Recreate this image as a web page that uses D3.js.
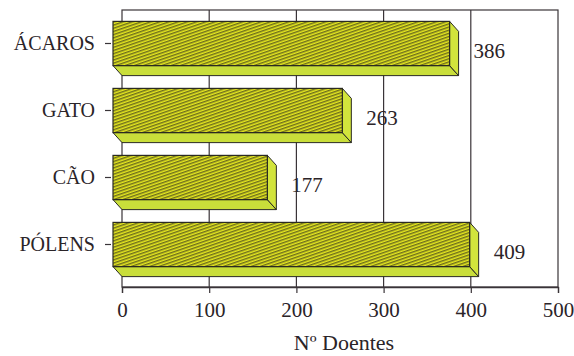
<!DOCTYPE html>
<html><head><meta charset="utf-8">
<script src="https://cdn.jsdelivr.net/npm/d3@7"></script>
<style>html,body{margin:0;padding:0;background:#fff;}svg{display:block;}</style>
</head><body>
<svg id="c" width="574" height="356"></svg>
<script>
const categories = ["ÁCAROS", "GATO", "CÃO", "PÓLENS"];
const values = [386, 263, 177, 409];
const ticks = [0, 100, 200, 300, 400, 500];
const axisTitle = "Nº Doentes";

const svg = d3.select("#c");
const font = "'Liberation Serif', 'Times New Roman', serif";
const ink = "#2b2428";
const depthX = 9, depthY = 10;

const x = d3.scaleLinear().domain([0, 500]).range([122, 558]);
const wallTop = 10, wallBottom = 287;
const y = d3.scaleBand().domain(categories).range([10, 278]).paddingInner(0.34).paddingOuter(0.17);

// pattern
const defs = svg.append("defs");
const pat = defs.append("pattern").attr("id", "hatch").attr("patternUnits", "userSpaceOnUse")
  .attr("width", 10).attr("height", 3).attr("patternTransform", "rotate(-19)");
pat.append("rect").attr("width", 10).attr("height", 3).attr("fill", "#e6e820");
pat.append("line").attr("x1", 0).attr("x2", 10).attr("y1", 0.8).attr("y2", 0.8)
  .attr("stroke", "#45451c").attr("stroke-width", 1.1);

// back wall
svg.append("rect").attr("x", x(0)).attr("y", wallTop).attr("width", x(500) - x(0)).attr("height", wallBottom - wallTop)
  .attr("fill", "none").attr("stroke", "#3a3438").attr("stroke-width", 1.2);
svg.append("g").selectAll("line").data(ticks.slice(1, -1)).join("line")
  .attr("x1", d => x(d)).attr("x2", d => x(d)).attr("y1", wallTop).attr("y2", wallBottom)
  .attr("stroke", "#3a3438").attr("stroke-width", 1.2);

// bottom axis
const ax = svg.append("g").attr("transform", `translate(0,${wallBottom})`)
  .call(d3.axisBottom(x).tickValues(ticks).tickSize(6).tickPadding(9).tickFormat(d3.format("d")));
ax.select(".domain").attr("stroke", "#3a3438").attr("stroke-width", 1.3);
ax.selectAll(".tick line").attr("stroke", "#3a3438").attr("stroke-width", 1.2);
ax.selectAll("text").attr("font-family", font).attr("font-size", 21).attr("fill", ink);

// left axis (ticks and labels only)
const ay = svg.append("g").attr("transform", `translate(${x(0) - depthX - 2},0)`)
  .call(d3.axisLeft(y).tickSize(6).tickPadding(10));
ay.select(".domain").remove();
ay.selectAll(".tick line").attr("stroke", "#3a3438").attr("stroke-width", 1.2);
ay.selectAll("text").attr("font-family", font).attr("font-size", 20).attr("fill", ink);

// bars
const bars = svg.append("g").selectAll("g").data(categories.map((c, i) => ({c, v: values[i]}))).join("g");
bars.each(function(d) {
  const g = d3.select(this);
  const x0 = x(0) - depthX, x1 = x(d.v) - depthX;
  const yt = y(d.c), yb = y(d.c) + y.bandwidth();
  // bottom face
  g.append("path").attr("d", `M${x0},${yb}L${x1},${yb}L${x1 + depthX},${yb + depthY}L${x0 + depthX},${yb + depthY}Z`)
    .attr("fill", "#c9de3a").attr("stroke", "#2a2a22").attr("stroke-width", 1).attr("stroke-linejoin", "round");
  // side face
  g.append("path").attr("d", `M${x1},${yt}L${x1 + depthX},${yt + depthY}L${x1 + depthX},${yb + depthY}L${x1},${yb}Z`)
    .attr("fill", "#d2e43c").attr("stroke", "#2a2a22").attr("stroke-width", 1).attr("stroke-linejoin", "round");
  // front face
  g.append("rect").attr("x", x0).attr("y", yt).attr("width", x1 - x0).attr("height", yb - yt)
    .attr("fill", "url(#hatch)").attr("stroke", "#2a2a22").attr("stroke-width", 1.2);
  // value label
  g.append("text").attr("x", x(d.v) + 15).attr("y", (yt + yb) / 2 + 7)
    .attr("dominant-baseline", "central").attr("font-family", font).attr("font-size", 21).attr("fill", ink)
    .text(d.v);
});

// axis title
svg.append("text").attr("x", 344).attr("y", 350).attr("text-anchor", "middle")
  .attr("font-family", font).attr("font-size", 22).attr("fill", ink).text(axisTitle);
</script>
</body></html>
